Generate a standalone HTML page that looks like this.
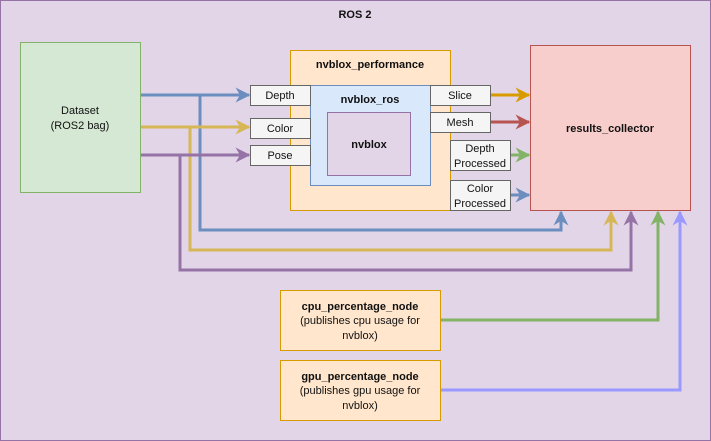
<!DOCTYPE html>
<html><head><style>body{margin:0}svg{display:block}text{font-family:"Liberation Sans",sans-serif;font-size:11px;fill:#111}</style></head><body>
<svg width="711" height="441" viewBox="0 0 711 441">
<defs>
<marker id="a" viewBox="0 0 10 10" refX="9" refY="5" markerWidth="5" markerHeight="5" orient="auto" markerUnits="strokeWidth"><path d="M0,0 L10,5 L0,10 L3,5 Z" fill="context-stroke"/></marker>
</defs>
<rect x="0.5" y="0.5" width="710" height="440" fill="#e1d5e7" stroke="#9673a6"/>
<text x="355" y="18" text-anchor="middle" font-weight="bold">ROS 2</text>
<rect x="20.5" y="42.5" width="120" height="150" fill="#d5e8d4" stroke="#82b366"/>
<text x="80" y="114" text-anchor="middle">Dataset</text><text x="80" y="129" text-anchor="middle">(ROS2 bag)</text>
<rect x="290.5" y="50.5" width="160" height="160" fill="#ffe6cc" stroke="#d79b00"/>
<text x="370" y="68" text-anchor="middle" font-weight="bold">nvblox_performance</text>
<rect x="310.5" y="85.5" width="120" height="100" fill="#dae8fc" stroke="#6c8ebf"/>
<text x="370" y="103" text-anchor="middle" font-weight="bold">nvblox_ros</text>
<rect x="327.5" y="112.5" width="83" height="63" fill="#e1d5e7" stroke="#9673a6"/>
<text x="369" y="148" text-anchor="middle" font-weight="bold">nvblox</text>
<g fill="#f5f5f5" stroke="#666">
<rect x="250.5" y="85.5" width="60" height="20"/><rect x="250.5" y="118.5" width="60" height="20"/><rect x="250.5" y="145.5" width="60" height="20"/>
<rect x="430.5" y="85.5" width="60" height="20"/><rect x="430.5" y="112.5" width="60" height="20"/>
<rect x="450.5" y="140.5" width="60" height="30"/><rect x="450.5" y="180.5" width="60" height="30"/>
</g>
<g text-anchor="middle" fill="#333">
<text x="280" y="99">Depth</text><text x="280" y="132">Color</text><text x="280" y="159">Pose</text>
<text x="460" y="99">Slice</text><text x="460" y="126">Mesh</text>
<text x="480" y="152">Depth</text><text x="480" y="167">Processed</text>
<text x="480" y="192">Color</text><text x="480" y="207">Processed</text>
</g>
<rect x="530.5" y="45.5" width="160" height="165" fill="#f8cecc" stroke="#b85450"/>
<text x="610" y="132" text-anchor="middle" font-weight="bold">results_collector</text>
<rect x="280.5" y="290.5" width="160" height="60" fill="#ffe6cc" stroke="#d79b00"/>
<text x="360" y="310" text-anchor="middle" font-weight="bold">cpu_percentage_node</text>
<text x="360" y="324" text-anchor="middle">(publishes cpu usage for</text><text x="360" y="339" text-anchor="middle">nvblox)</text>
<rect x="280.5" y="360.5" width="160" height="60" fill="#ffe6cc" stroke="#d79b00"/>
<text x="360" y="380" text-anchor="middle" font-weight="bold">gpu_percentage_node</text>
<text x="360" y="394" text-anchor="middle">(publishes gpu usage for</text><text x="360" y="409" text-anchor="middle">nvblox)</text>
<g fill="none" stroke-width="3" marker-end="url(#a)">
<path d="M141,95 H249" stroke="#6c8ebf"/>
<path d="M200,95 V230 H561 V212" stroke="#6c8ebf"/>
<path d="M141,127 H249" stroke="#d6b656"/>
<path d="M190,127 V250 H611 V212" stroke="#d6b656"/>
<path d="M141,155 H249" stroke="#9673a6"/>
<path d="M180,155 V270 H631 V212" stroke="#9673a6"/>
<path d="M441,320 H658 V212" stroke="#82b366"/>
<path d="M441,390 H680 V212" stroke="#9999ff"/>
<path d="M491,95 H529" stroke="#d79b00"/>
<path d="M491,122 H529" stroke="#b85450"/>
<path d="M511,155 H529" stroke="#82b366"/>
<path d="M511,195 H529" stroke="#6c8ebf"/>
</g>
</svg>
</body></html>
